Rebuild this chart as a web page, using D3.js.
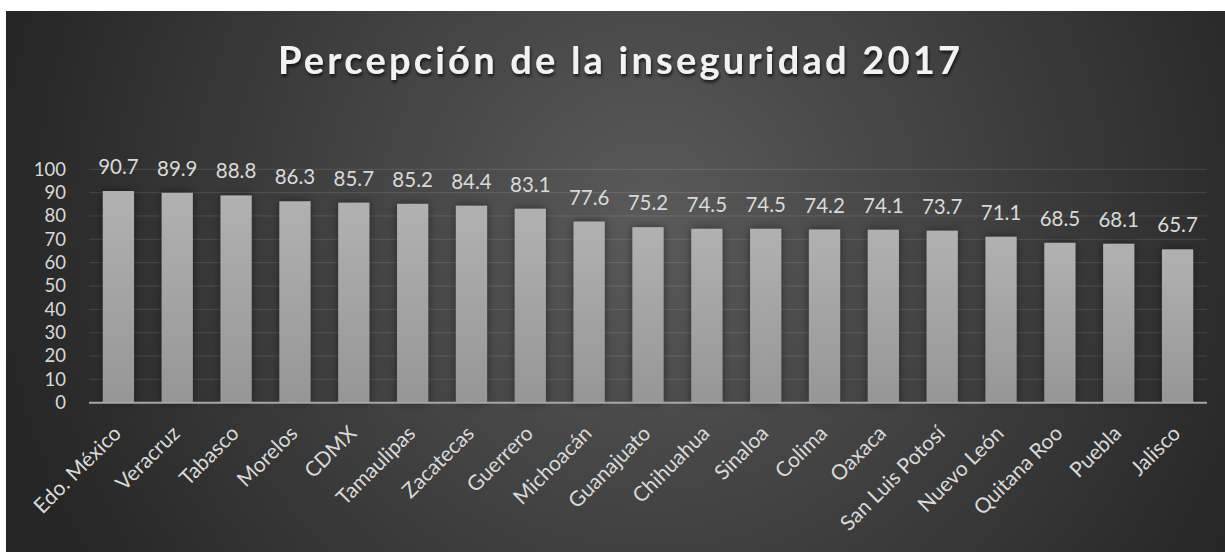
<!DOCTYPE html>
<html>
<head>
<meta charset="utf-8">
<script src="https://cdn.jsdelivr.net/npm/d3@7"></script>
<style>
  body { margin: 0; background: #fff; }
  svg { display: block; font-family: Lato, "Open Sans", sans-serif; }
</style>
</head>
<body>
<div id="chart"></div>
<script>
// Data
const estados = ["Edo. México", "Veracruz", "Tabasco", "Morelos", "CDMX", "Tamaulipas",
  "Zacatecas", "Guerrero", "Michoacán", "Guanajuato", "Chihuahua", "Sinaloa", "Colima",
  "Oaxaca", "San Luis Potosí", "Nuevo León", "Quitana Roo", "Puebla", "Jalisco"]
const percepcion = [90.7, 89.9, 88.8, 86.3, 85.7, 85.2, 84.4, 83.1, 77.6, 75.2, 74.5,
  74.5, 74.2, 74.1, 73.7, 71.1, 68.5, 68.1, 65.7]
const yTicks = [0, 10, 20, 30, 40, 50, 60, 70, 80, 90, 100]
const titulo = "Percepción de la inseguridad 2017"

const dataset = estados.map((d, i) => ({ estado: d, valor: percepcion[i] }))

// Dimensions
const width = 1225
const height = 552
const panel = { x: 6, y: 11, width: 1219, height: 541 }
const plot = { left: 89, right: 1207, top: 169.3, bottom: 402.7 }

const svg = d3.select("#chart")
  .append("svg")
    .attr("width", width)
    .attr("height", height)

const defs = svg.append("defs")

const bg = defs.append("radialGradient")
    .attr("id", "bg")
    .attr("gradientUnits", "userSpaceOnUse")
    .attr("cx", 650).attr("cy", 220).attr("r", 660)
bg.append("stop").attr("offset", "0%").attr("stop-color", "#5a5a5a")
bg.append("stop").attr("offset", "100%").attr("stop-color", "#262626")

const barGrad = defs.append("linearGradient")
    .attr("id", "barGrad")
    .attr("x1", 0).attr("y1", 0).attr("x2", 0).attr("y2", 1)
barGrad.append("stop").attr("offset", "0%").attr("stop-color", "#b1b1b1")
barGrad.append("stop").attr("offset", "100%").attr("stop-color", "#969696")

const barShadow = defs.append("filter")
    .attr("id", "barShadow")
    .attr("x", "-50%").attr("y", "-10%").attr("width", "200%").attr("height", "120%")
barShadow.append("feDropShadow")
    .attr("dx", 0).attr("dy", 0).attr("stdDeviation", 4)
    .attr("flood-color", "#000").attr("flood-opacity", 0.45)

const titleShadow = defs.append("filter")
    .attr("id", "titleShadow")
    .attr("x", "-5%").attr("y", "-20%").attr("width", "110%").attr("height", "150%")
titleShadow.append("feDropShadow")
    .attr("dx", 1).attr("dy", 2.5).attr("stdDeviation", 1.5)
    .attr("flood-color", "#000").attr("flood-opacity", 0.7)

svg.append("rect")
    .attr("x", panel.x).attr("y", panel.y)
    .attr("width", panel.width).attr("height", panel.height)
    .attr("fill", "url(#bg)")

// Scales
const xScale = d3.scaleBand()
  .domain(estados)
  .range([plot.left, plot.right])
  .paddingInner(0.47)
  .paddingOuter(0.235)

const yScale = d3.scaleLinear()
  .domain([0, 100])
  .range([plot.bottom, plot.top])

// Gridlines
svg.append("g")
  .selectAll("line")
  .data(yTicks.filter(d => d > 0))
  .join("line")
    .attr("x1", plot.left).attr("x2", plot.right)
    .attr("y1", d => yScale(d)).attr("y2", d => yScale(d))
    .attr("stroke", "#ffffff")
    .attr("stroke-opacity", 0.12)
    .attr("stroke-width", 1)

// Bars
svg.append("g")
  .selectAll("rect")
  .data(dataset)
  .join("rect")
    .attr("x", d => xScale(d.estado))
    .attr("y", d => yScale(d.valor))
    .attr("width", xScale.bandwidth())
    .attr("height", d => yScale(0) - yScale(d.valor))
    .attr("fill", "url(#barGrad)")
    .attr("filter", "url(#barShadow)")

// Baseline
svg.append("line")
    .attr("x1", plot.left).attr("x2", plot.right)
    .attr("y1", yScale(0)).attr("y2", yScale(0))
    .attr("stroke", "#a6a6a6")
    .attr("stroke-width", 2)

// Value labels
svg.append("g")
  .selectAll("text")
  .data(dataset)
  .join("text")
    .attr("x", d => xScale(d.estado) + xScale.bandwidth() / 2)
    .attr("y", d => yScale(d.valor) - 17)
    .attr("text-anchor", "middle")
    .attr("fill", "#d9d9d9")
    .style("font-size", "20.5px")
    .text(d => d.valor.toFixed(1))

// Y axis
const yAxis = svg.append("g")
    .attr("transform", `translate(${plot.left - 23}, 0)`)
    .call(d3.axisLeft(yScale).tickValues(yTicks).tickSize(0).tickPadding(0))
yAxis.select(".domain").remove()
yAxis.selectAll("text")
    .attr("fill", "#d9d9d9")
    .style("font-size", "18.5px")
    .style("font-family", "Lato, sans-serif")

// X axis
const xAxis = svg.append("g")
    .attr("transform", `translate(0, ${plot.bottom})`)
    .call(d3.axisBottom(xScale).tickSize(0).tickPadding(0))
xAxis.select(".domain").remove()
xAxis.selectAll("text")
    .attr("fill", "#d9d9d9")
    .style("font-size", "21px")
    .style("font-family", "Lato, sans-serif")
    .attr("text-anchor", "end")
    .attr("dy", 0)
    .attr("y", 0)
    .attr("transform", "translate(4, 32) rotate(-45)")

// Title
svg.append("text")
    .attr("x", 619)
    .attr("y", 74)
    .attr("text-anchor", "middle")
    .attr("fill", "#f2f2f2")
    .attr("filter", "url(#titleShadow)")
    .attr("textLength", 682)
    .attr("lengthAdjust", "spacing")
    .style("font-size", "38px")
    .style("font-weight", "bold")
    .text(titulo)
</script>
</body>
</html>
